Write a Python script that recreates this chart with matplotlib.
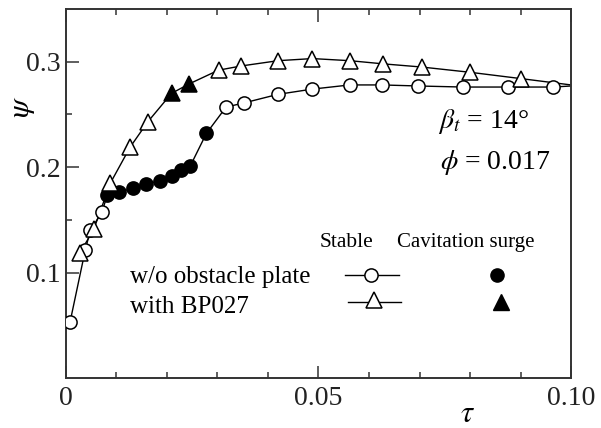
import matplotlib
matplotlib.use("Agg")
import matplotlib.pyplot as plt
from matplotlib.ticker import MultipleLocator, FixedLocator, FixedFormatter

plt.rcParams['font.family'] = ['Liberation Serif', 'DejaVu Serif']
plt.rcParams['mathtext.fontset'] = 'stix'

# w/o obstacle plate (circles); surge flag: 1 = cavitation surge (filled)
tau_c = [0.0008, 0.0038, 0.0048, 0.0071, 0.0082, 0.0104, 0.0132, 0.0158, 0.0187,
         0.0210, 0.0228, 0.0246, 0.0278, 0.0317, 0.0353, 0.0419, 0.0487, 0.0562,
         0.0625, 0.0698, 0.0786, 0.0876, 0.0965, 0.1000]
psi_c = [0.053, 0.121, 0.140, 0.157, 0.174, 0.176, 0.180, 0.184, 0.187,
         0.192, 0.197, 0.201, 0.232, 0.257, 0.261, 0.269, 0.274, 0.278,
         0.278, 0.277, 0.276, 0.276, 0.276, 0.277]
surge_c = [0, 0, 0, 0, 1, 1, 1, 1, 1, 1, 1, 1, 1, 0, 0, 0, 0, 0, 0, 0, 0, 0, 0, None]

# with BP027 (triangles)
tau_t = [0.0028, 0.0055, 0.0088, 0.0127, 0.0162, 0.0209, 0.0244, 0.0302, 0.0347,
         0.0420, 0.0488, 0.0562, 0.0628, 0.0704, 0.0800, 0.0901, 0.1000]
psi_t = [0.119, 0.141, 0.185, 0.219, 0.243, 0.270, 0.279, 0.292, 0.296,
         0.301, 0.303, 0.301, 0.298, 0.295, 0.290, 0.284, 0.278]
surge_t = [0, 0, 0, 0, 0, 1, 1, 0, 0, 0, 0, 0, 0, 0, 0, 0, None]

x_ticks = [0, 0.05, 0.10]
x_ticklabels = ['0', '0.05', '0.10']
y_ticks = [0.1, 0.2, 0.3]
y_ticklabels = ['0.1', '0.2', '0.3']

fig = plt.figure(figsize=(6.01, 4.28), dpi=100)
ax = fig.add_axes([0.1098, 0.1168, 0.8403, 0.8621])

ax.plot(tau_c, psi_c, '-', color='black', lw=1.0, zorder=2)
ax.plot(tau_t, psi_t, '-', color='black', lw=1.0, zorder=2)

for xs, ys, fl, mk, ms in [(tau_c, psi_c, surge_c, 'o', 9.5), (tau_t, psi_t, surge_t, '^', 11)]:
    xo = [x for x, f in zip(xs, fl) if f == 0]
    yo = [y for y, f in zip(ys, fl) if f == 0]
    xf = [x for x, f in zip(xs, fl) if f == 1]
    yf = [y for y, f in zip(ys, fl) if f == 1]
    ax.plot(xo, yo, mk, ms=ms, mfc='white', mec='black', mew=1.1, zorder=3)
    ax.plot(xf, yf, mk, ms=ms, mfc='black', mec='black', mew=1.1, zorder=3)

ax.set_xlim(0, 0.10)
ax.set_ylim(0, 0.35)
ax.xaxis.set_major_locator(FixedLocator(x_ticks))
ax.xaxis.set_major_formatter(FixedFormatter(x_ticklabels))
ax.xaxis.set_minor_locator(MultipleLocator(0.01))
ax.yaxis.set_major_locator(FixedLocator(y_ticks))
ax.yaxis.set_major_formatter(FixedFormatter(y_ticklabels))
ax.yaxis.set_minor_locator(FixedLocator([0.05, 0.15, 0.25]))

ax.tick_params(axis='x', which='both', direction='in', top=True, bottom=True,
               labelsize=20, pad=6, color='#333333', labelcolor='#222222')
ax.tick_params(axis='y', which='both', direction='in', left=True, right=False,
               labelsize=20, pad=4, color='#333333', labelcolor='#222222')
ax.tick_params(which='major', length=9, width=1.1)
ax.tick_params(which='minor', length=4.5, width=1.1)

for s in ax.spines.values():
    s.set_linewidth(1.4)
    s.set_color('#333333')

ax.set_xlabel(r'$\tau$', fontsize=22, va='center')
ax.xaxis.set_label_coords(0.796, -0.10)
ax.set_ylabel(r'$\psi$', fontsize=22, va='center', ha='center')
ax.yaxis.set_label_coords(-0.087, 0.734)

# annotations
ax.text(0.737, 0.694, r'$\beta_t$ = 14°', transform=ax.transAxes, fontsize=20,
        va='center', ha='left')
ax.text(0.741, 0.583, r'$\phi$ = 0.017', transform=ax.transAxes, fontsize=20,
        va='center', ha='left')

# legend
ax.text(0.556, 0.366, 'Stable', transform=ax.transAxes, fontsize=15.5, ha='center', va='center')
ax.text(0.792, 0.366, 'Cavitation surge', transform=ax.transAxes, fontsize=15, ha='center', va='center')
ax.text(0.127, 0.274, 'w/o obstacle plate', transform=ax.transAxes, fontsize=18, ha='left', va='center')
ax.text(0.127, 0.192, 'with BP027', transform=ax.transAxes, fontsize=18, ha='left', va='center')
ax.plot([0.5525, 0.659], [0.279, 0.279], '-', color='black', lw=1.0, transform=ax.transAxes)
ax.plot([0.604], [0.279], 'o', ms=9.5, mfc='white', mec='black', mew=1.1, transform=ax.transAxes)
ax.plot([0.558, 0.663], [0.206, 0.206], '-', color='black', lw=1.0, transform=ax.transAxes)
ax.plot([0.610], [0.212], '^', ms=11, mfc='white', mec='black', mew=1.1, transform=ax.transAxes)
ax.plot([0.853], [0.279], 'o', ms=9.5, mfc='black', mec='black', transform=ax.transAxes)
ax.plot([0.861], [0.206], '^', ms=11, mfc='black', mec='black', transform=ax.transAxes)

fig.savefig('out.png', dpi=100)
